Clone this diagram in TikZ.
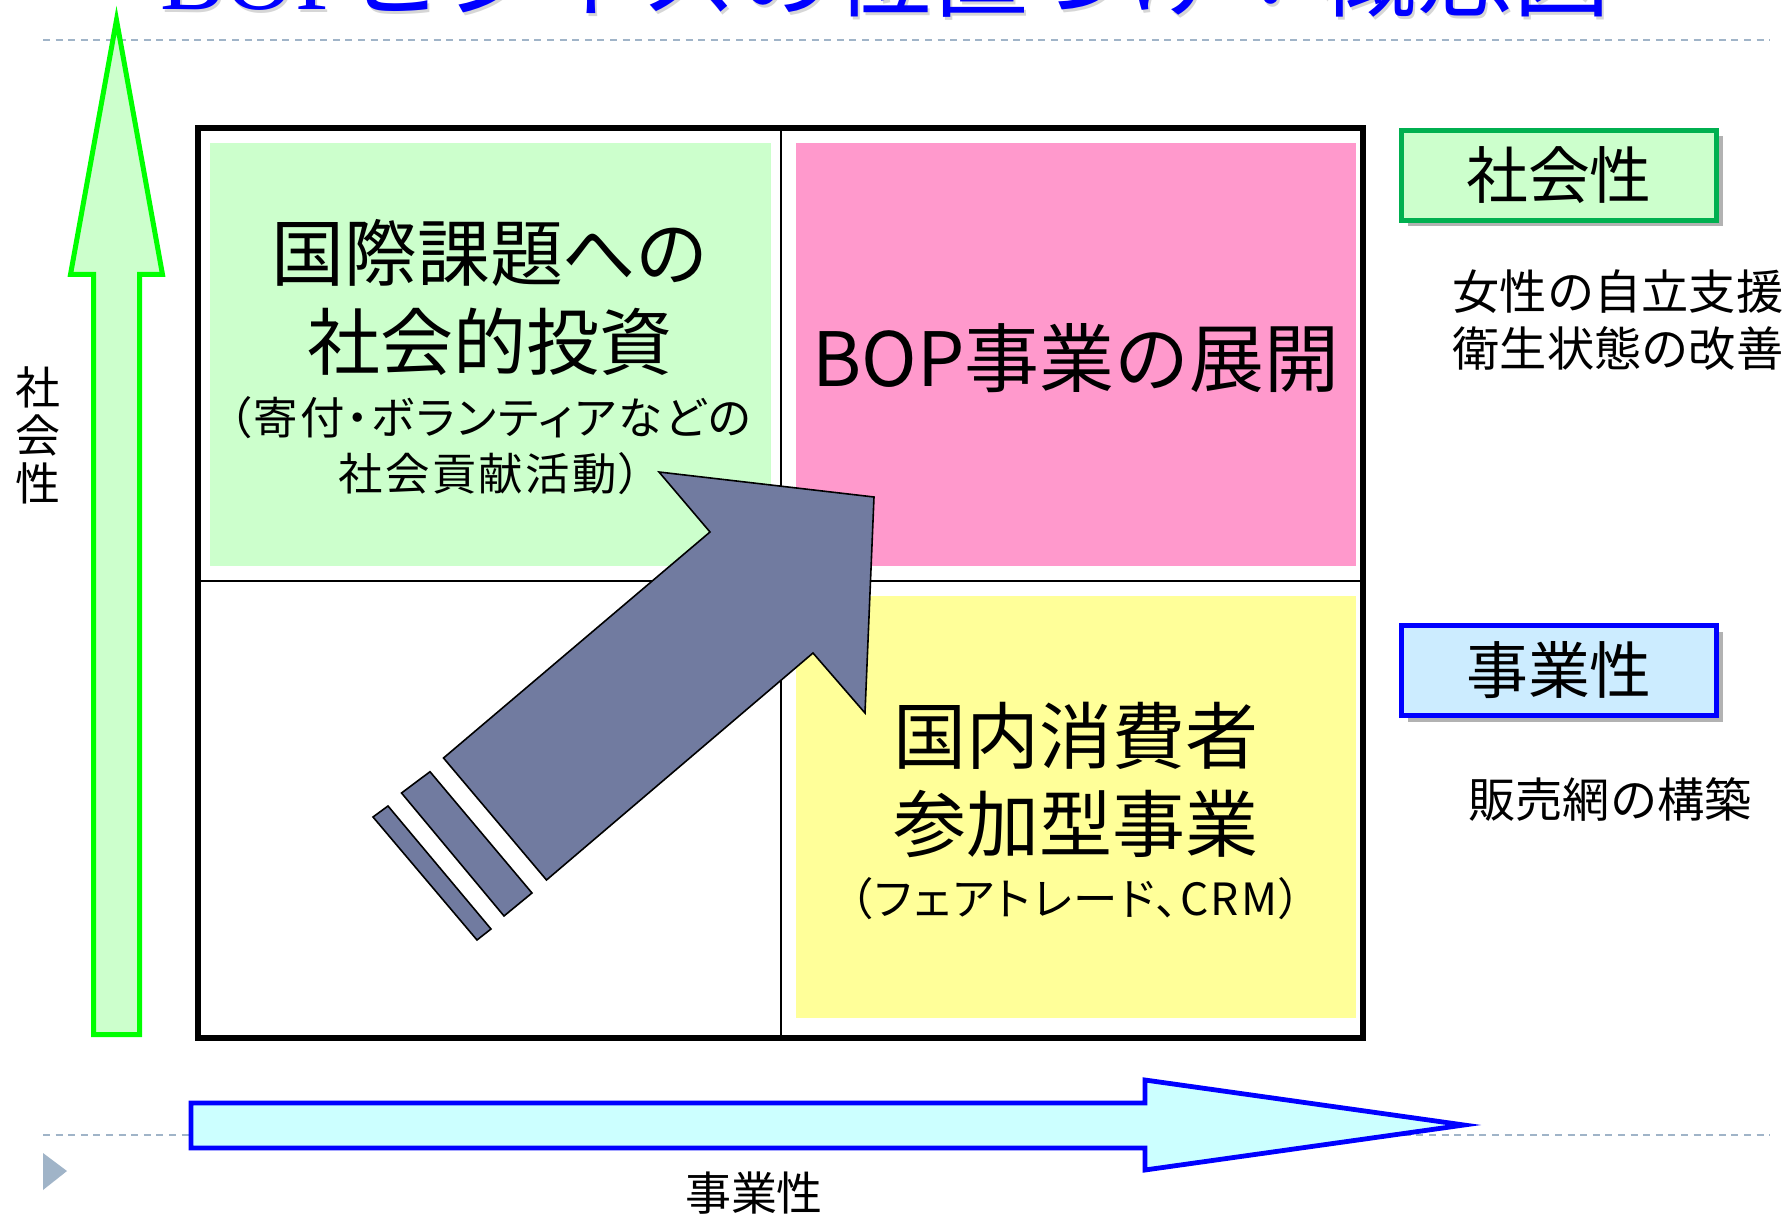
\documentclass[tikz,border=0pt]{standalone}
\usepackage{fontspec}
\setmainfont{Noto Sans CJK JP}
\newfontfamily\jpp{Noto Sans CJK JP}[RawFeature=+palt, LetterSpace=5]
\newfontfamily\ttlserif{Liberation Serif}
\usetikzlibrary{shadows}
\definecolor{lgreen}{HTML}{CCFFCC}
\definecolor{bgreen}{HTML}{00FF00}
\definecolor{dgreen}{HTML}{00B050}
\definecolor{qpink}{HTML}{FF99CC}
\definecolor{qyellow}{HTML}{FFFF99}
\definecolor{slate}{HTML}{717BA0}
\definecolor{lcyan}{HTML}{CCFFFF}
\definecolor{lblue}{HTML}{CCECFF}
\definecolor{pureblue}{HTML}{0000FF}
\definecolor{dotcol}{HTML}{A0B4C8}
\newcommand\myfs[1]{\fontsize{#1}{#1}\selectfont}
\tikzset{
  x=0.25mm, y=-0.25mm,
  dotline/.style={draw=dotcol, line width=0.5mm, dash pattern=on 1.75mm off 1.4mm},
  bigtxt/.style={inner sep=0, font=\myfs{51.9pt}},
  subtxt/.style={inner sep=0, font=\jpp\myfs{31.6pt}},
  sidetxt/.style={inner sep=0, font=\myfs{33.6pt}},
  labelbox/.style={minimum width=78.75mm, minimum height=22.5mm, line width=1.2mm, inner sep=0,
    font=\myfs{44pt}, drop shadow={shadow xshift=1.5mm, shadow yshift=-1.5mm, fill=black, opacity=0.3}},
  slatefill/.style={fill=slate, draw=black, line width=0.4mm, line join=miter},
}
\begin{document}
\begin{tikzpicture}
\useasboundingbox (0,0) rectangle (1790,1216);
\clip (0,0) rectangle (1790,1216);
\fill[white] (0,0) rectangle (1790,1216);

% title (cut off by the page top)
\node[anchor=base west, inner sep=0, text=black!40, opacity=0.4, font=\myfs{69pt}] (titleshadow) at (162,13) {{\ttlserif BOP}ビジネスの位置づけ：概念図};
\node[anchor=base west, inner sep=0, text=pureblue, font=\myfs{69pt}] (title) at (160,10) {{\ttlserif BOP}ビジネスの位置づけ：概念図};

% dotted rules and bullet
\draw[dotline] (43,40) -- (1770,40);
\draw[dotline] (43,1135) -- (1770,1135);
\fill[dotcol] (43,1153) -- (67,1171) -- (43,1190) -- cycle;

% vertical (green) axis arrow
\filldraw[fill=lgreen, draw=bgreen, line width=1.25mm]
  (93.5,1034.5) -- (93.5,274.5) -- (70.5,274.5) -- (116.5,20) -- (162.5,274.5) -- (139.5,274.5) -- (139.5,1034.5) -- cycle;

% horizontal (blue) axis arrow
\filldraw[fill=lcyan, draw=pureblue, line width=1.2mm]
  (191,1103) -- (1145,1103) -- (1145,1080) -- (1464,1125) -- (1145,1170) -- (1145,1148) -- (191,1148) -- cycle;

% quadrant fills
\fill[lgreen] (210,143) rectangle (771,566);
\fill[qpink] (796,143) rectangle (1356,566);
\fill[qyellow] (796,596) rectangle (1356,1018);

% grid
\draw[line width=0.6mm] (781,128) -- (781,1038);
\draw[line width=0.6mm] (198,581) -- (1363,581);
\draw[line width=1.5mm] (198,128) rectangle (1363,1038);

% quadrant texts
\node[bigtxt] (q1a) at (490,253) {国際課題への};
\node[bigtxt] (q1b) at (490,342) {社会的投資};
\node[subtxt] (q1c) at (490,418) {（寄付・ボランティアなどの};
\node[subtxt] (q1d) at (490,474) {社会貢献活動）};
\node[inner sep=0, font=\myfs{53.3pt}] (q2) at (1076,358) {BOP事業の展開};
\node[bigtxt] (q4a) at (1076,736) {国内消費者};
\node[bigtxt] (q4b) at (1076,824) {参加型事業};
\node[subtxt] (q4c) at (1076,899) {（フェアトレード、CRM）};

% big diagonal arrow with stripes
\filldraw[slatefill] (443.5,758) -- (710,532) -- (659,472) -- (874,497) -- (865,713) -- (813,653) -- (546.5,880) -- cycle;
\filldraw[slatefill] (401.5,793) -- (430,771.7) -- (532,893) -- (504,916) -- cycle;
\filldraw[slatefill] (373,817) -- (388,806) -- (491,929) -- (477,940) -- cycle;

% right-hand labels
\node[labelbox, draw=dgreen, fill=lgreen] (social) at (1559,175.5) {社会性};
\node[sidetxt] (s1) at (1618,292) {女性の自立支援};
\node[sidetxt] (s2) at (1618,349) {衛生状態の改善};
\node[labelbox, draw=pureblue, fill=lblue] (business) at (1559,670.5) {事業性};
\node[sidetxt] (b1) at (1610,800) {販売網の構築};

% axis labels
\node[inner sep=0, align=center, font=\fontsize{32pt}{34.1pt}\selectfont] (yaxis) at (38,435) {社\\会\\性};
\node[anchor=north, inner sep=0, font=\myfs{32.7pt}] (xaxis) at (754,1172) {事業性};
\end{tikzpicture}
\end{document}
